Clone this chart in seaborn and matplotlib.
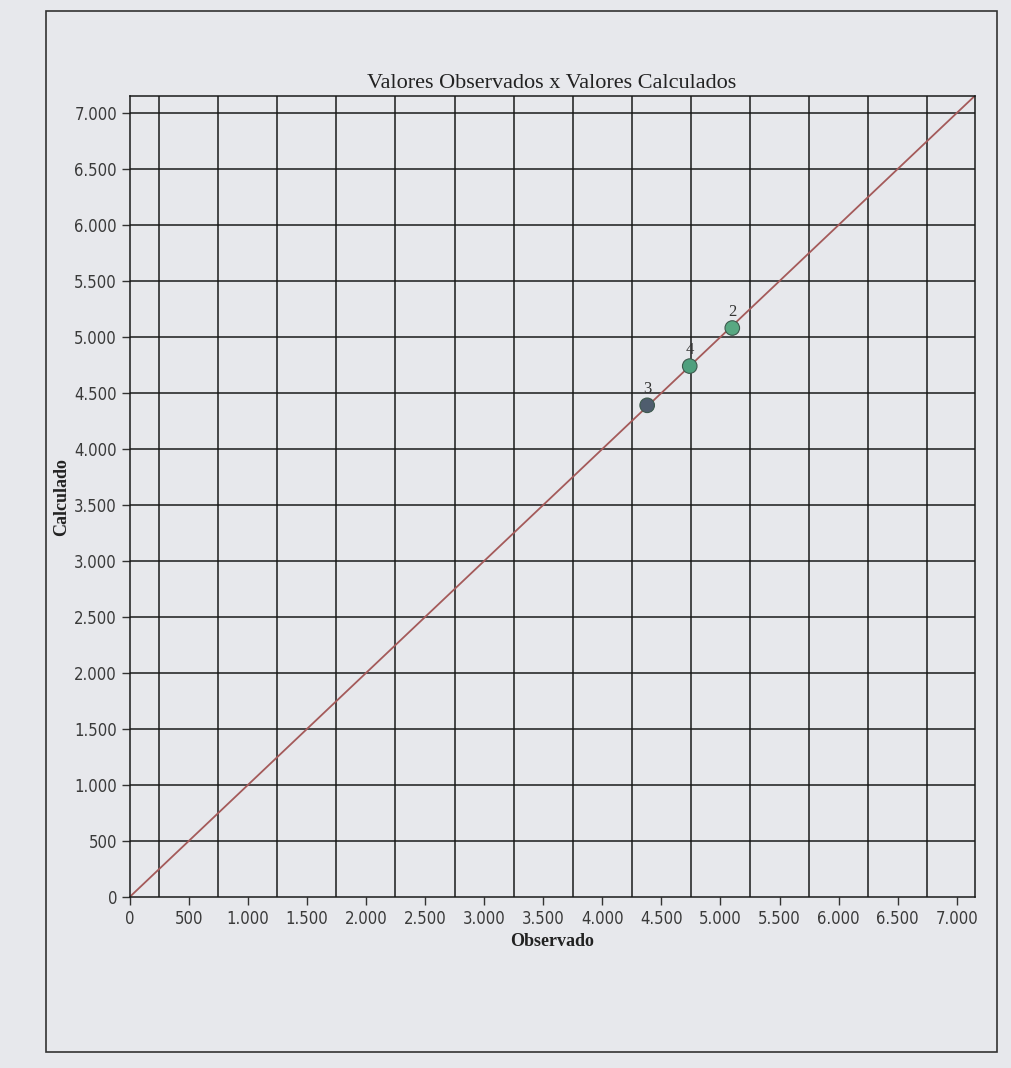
import matplotlib
matplotlib.use("Agg")
import matplotlib.pyplot as plt
import seaborn as sns
import pandas as pd
import numpy as np
from matplotlib.ticker import FuncFormatter, MultipleLocator

# Data
point_labels = ["3", "4", "2"]
observado = [4380, 4740, 5100]
calculado = [4390, 4740, 5080]
point_colors = ["#4f5d6e", "#4fa07e", "#58a882"]
ideal_line = [0, 7150]

sns.set_theme(style="white")
plt.rcParams['font.family'] = ['DejaVu Sans']
plt.rcParams['font.stretch'] = 'condensed'

bg = "#e7e8ec"
fig = plt.figure(figsize=(10.12, 10.68), dpi=100, facecolor=bg)
ax = fig.add_axes([0.128, 0.16, 0.835, 0.75])
ax.set_facecolor(bg)

# Identity line
sns.lineplot(x=ideal_line, y=ideal_line, ax=ax, color="#a45a5a", linewidth=1.3)

df = pd.DataFrame({"obs": observado, "calc": calculado, "lab": point_labels})
sns.scatterplot(data=df, x="obs", y="calc", hue="lab", palette=point_colors,
                s=110, marker="o", edgecolor="#3d5a4e", linewidth=0.8,
                legend=False, ax=ax, zorder=5)
for x, y, t in zip(observado, calculado, point_labels):
    ax.annotate(t, (x, y), xytext=(0, 6), textcoords="offset points",
                ha="center", va="bottom", fontsize=12, color="#333333",
                family="Liberation Serif")

ax.set_xlim(0, 7150)
ax.set_ylim(0, 7150)
ax.xaxis.set_major_locator(MultipleLocator(500))
ax.yaxis.set_major_locator(MultipleLocator(500))
fmt = FuncFormatter(lambda v, p: f"{int(v):,}".replace(",", "."))
ax.xaxis.set_major_formatter(fmt)
ax.yaxis.set_major_formatter(fmt)

# grid: horizontal at ticks, vertical between ticks
for yv in np.arange(500, 7001, 500):
    ax.axhline(yv, color="#1a1a1a", linewidth=1.1, zorder=1)
for xv in np.arange(250, 7150, 500):
    ax.axvline(xv, color="#1a1a1a", linewidth=1.1, zorder=1)

for s in ax.spines.values():
    s.set_color("#1a1a1a")
    s.set_linewidth(1.1)
ax.tick_params(axis="both", which="major", direction="out", length=6, width=1,
               color="#333333", labelsize=12, labelcolor="#3a3a3a", pad=3,
               bottom=True, left=True)

ax.set_xlabel("Observado", fontsize=13, fontweight="bold", family="Liberation Serif",
              color="#222222", labelpad=4)
ax.set_ylabel("Calculado", fontsize=13, fontweight="bold", family="Liberation Serif",
              color="#222222", labelpad=3)
ax.set_title("Valores Observados x Valores Calculados", fontsize=16,
             family="Liberation Serif", color="#222222", pad=6)

# outer frame
frame = plt.Rectangle((0.045, 0.015), 0.94, 0.975, transform=fig.transFigure,
                      fill=False, edgecolor="#333333", linewidth=1.2)
fig.patches.append(frame)

fig.savefig("out.png", dpi=100, facecolor=bg)
